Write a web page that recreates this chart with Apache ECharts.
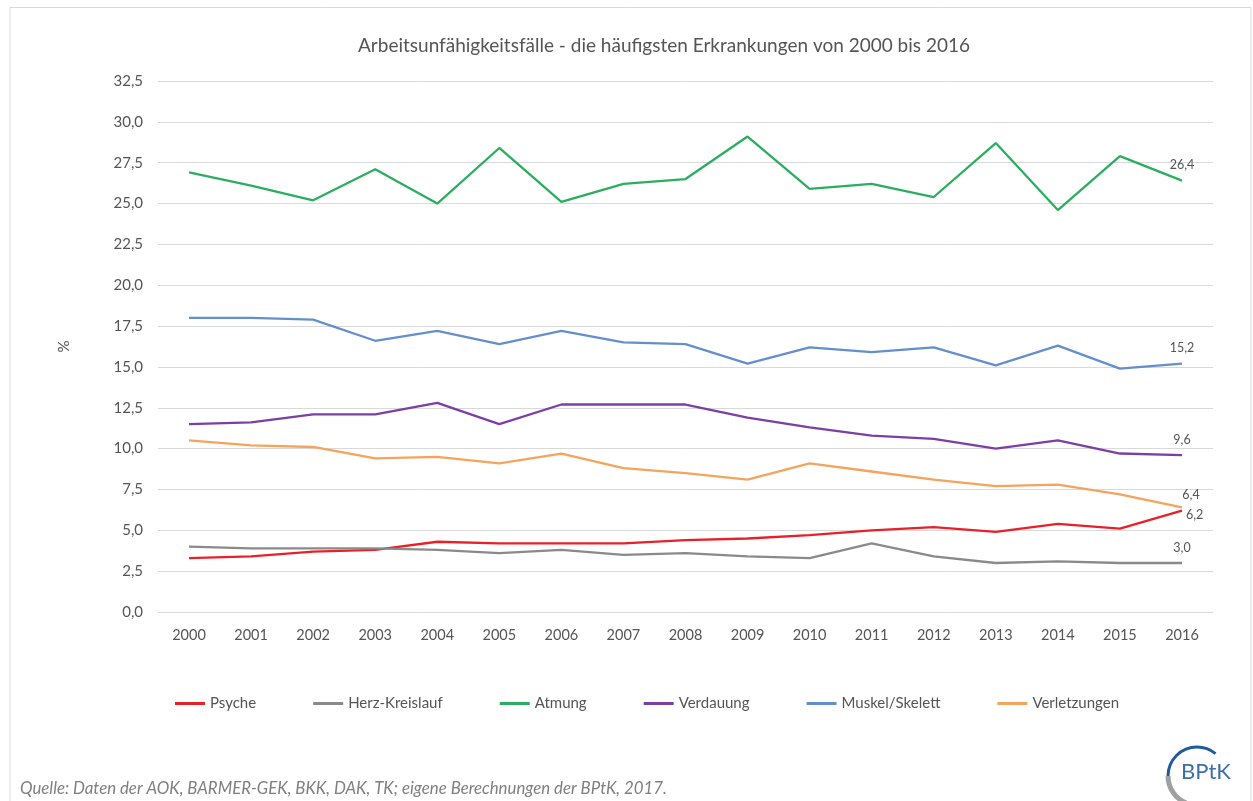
<!DOCTYPE html>
<html>
<head>
<meta charset="utf-8">
<title>Arbeitsunfähigkeitsfälle</title>
<script src="https://cdn.jsdelivr.net/npm/echarts@6/dist/echarts.min.js"></script>
<style>
  html, body { margin: 0; padding: 0; background: #fff; }
  #chart { width: 1253px; height: 801px; }
</style>
</head>
<body>
<div id="chart"></div>
<script>
// Daten
var years = ['2000', '2001', '2002', '2003', '2004', '2005', '2006', '2007', '2008',
             '2009', '2010', '2011', '2012', '2013', '2014', '2015', '2016'];
var psyche       = [3.3, 3.4, 3.7, 3.8, 4.3, 4.2, 4.2, 4.2, 4.4, 4.5, 4.7, 5.0, 5.2, 4.9, 5.4, 5.1, 6.2];
var herzKreis    = [4.0, 3.9, 3.9, 3.9, 3.8, 3.6, 3.8, 3.5, 3.6, 3.4, 3.3, 4.2, 3.4, 3.0, 3.1, 3.0, 3.0];
var atmung       = [26.9, 26.1, 25.2, 27.1, 25.0, 28.4, 25.1, 26.2, 26.5, 29.1, 25.9, 26.2, 25.4, 28.7, 24.6, 27.9, 26.4];
var verdauung    = [11.5, 11.6, 12.1, 12.1, 12.8, 11.5, 12.7, 12.7, 12.7, 11.9, 11.3, 10.8, 10.6, 10.0, 10.5, 9.7, 9.6];
var muskel       = [18.0, 18.0, 17.9, 16.6, 17.2, 16.4, 17.2, 16.5, 16.4, 15.2, 16.2, 15.9, 16.2, 15.1, 16.3, 14.9, 15.2];
var verletzungen = [10.5, 10.2, 10.1, 9.4, 9.5, 9.1, 9.7, 8.8, 8.5, 8.1, 9.1, 8.6, 8.1, 7.7, 7.8, 7.2, 6.4];

var seriesNames = ['Psyche', 'Herz-Kreislauf', 'Atmung', 'Verdauung', 'Muskel/Skelett', 'Verletzungen'];
var seriesData  = [psyche, herzKreis, atmung, verdauung, muskel, verletzungen];
var colors      = ['#e8202a', '#8a8a8a', '#2bae5f', '#7b3fa6', '#658fcc', '#f5a45d'];

var FONT = 'Lato, "Open Sans", sans-serif';
var TXT = '#555555';

function komma(v) { return v.toFixed(1).replace('.', ','); }

// Beschriftung nur am letzten Punkt
function endLabel(idx) {
  var lbl = { show: true, position: 'top', distance: 9, color: TXT, fontSize: 12.5, fontFamily: FONT,
              formatter: function (p) { return komma(p.value); } };
  if (seriesNames[idx] === 'Psyche') { lbl.position = 'right'; lbl.distance = 4; lbl.offset = [0, 4]; }
  if (seriesNames[idx] === 'Verletzungen') { lbl.offset = [9, 0]; lbl.distance = 6; }
  return lbl;
}

var series = seriesNames.map(function (name, i) {
  var data = seriesData[i].map(function (v, j) {
    if (j === seriesData[i].length - 1) return { value: v, label: endLabel(i) };
    return v;
  });
  return {
    name: name,
    type: 'line',
    data: data,
    symbol: 'circle',
    symbolSize: 0,
    showSymbol: true,
    lineStyle: { width: 2.3, color: colors[i] },
    itemStyle: { color: colors[i] },
    label: { show: false },
    emphasis: { disabled: true },
    animation: false
  };
});

var myChart = echarts.init(document.getElementById('chart'));
var option = {
  backgroundColor: '#fff',
  title: {
    text: 'Arbeitsunfähigkeitsfälle - die häufigsten Erkrankungen von 2000 bis 2016',
    left: 659, top: 31, textAlign: 'center',
    textStyle: { fontFamily: FONT, fontSize: 19, fontWeight: 'normal', color: TXT }
  },
  legend: {
    left: 170, top: 691,
    icon: 'rect', itemWidth: 30, itemHeight: 3, itemGap: 57,
    textStyle: { fontFamily: FONT, fontSize: 15, color: TXT },
    data: seriesNames
  },
  grid: { left: 158, right: 40, top: 81, bottom: 189, containLabel: false },
  xAxis: {
    type: 'category',
    data: years,
    boundaryGap: true,
    axisLine: { show: false },
    axisTick: { show: false },
    axisLabel: { fontFamily: FONT, fontSize: 14.5, color: TXT, margin: 16 }
  },
  yAxis: {
    type: 'value',
    min: 0, max: 32.5, interval: 2.5,
    name: '%', nameLocation: 'middle', nameGap: 86, nameRotate: 90,
    nameTextStyle: { fontFamily: FONT, fontSize: 15, color: TXT },
    axisLine: { show: false },
    axisTick: { show: false },
    axisLabel: { fontFamily: FONT, fontSize: 15, color: TXT, margin: 15, formatter: komma },
    splitLine: { lineStyle: { color: '#d9d9d9', width: 1 } }
  },
  graphic: [
    // Rahmen
    { type: 'polyline', silent: true, shape: { points: [[10, 801], [10, 7.5], [1251, 7.5], [1251, 801]] },
      style: { stroke: '#d9d9d9', lineWidth: 1, fill: null } },
    // Quelle
    { type: 'text', left: 20, top: 780, silent: true,
      style: { text: 'Quelle: Daten der AOK, BARMER-GEK, BKK, DAK, TK; eigene Berechnungen der BPtK, 2017.',
               fontFamily: FONT, fontSize: 16.8, fontStyle: 'italic', fill: '#7f7f7f' } },
    // Logo
    { type: 'arc', silent: true, shape: { cx: 1197, cy: 776, r: 29, startAngle: Math.PI * 0.62, endAngle: Math.PI * 1.0 },
      style: { stroke: '#a0a0a0', lineWidth: 5, fill: null } },
    { type: 'arc', silent: true, shape: { cx: 1197, cy: 776, r: 29, startAngle: Math.PI * 1.0, endAngle: Math.PI * 1.72 },
      style: { stroke: '#1f5b9c', lineWidth: 3, fill: null } },
    { type: 'text', left: 1181, top: 761, silent: true,
      style: { text: 'BPtK', fontFamily: FONT, fontSize: 22, fill: '#3f6fa8' } }
  ],
  series: series
};
myChart.setOption(option);
</script>
</body>
</html>
